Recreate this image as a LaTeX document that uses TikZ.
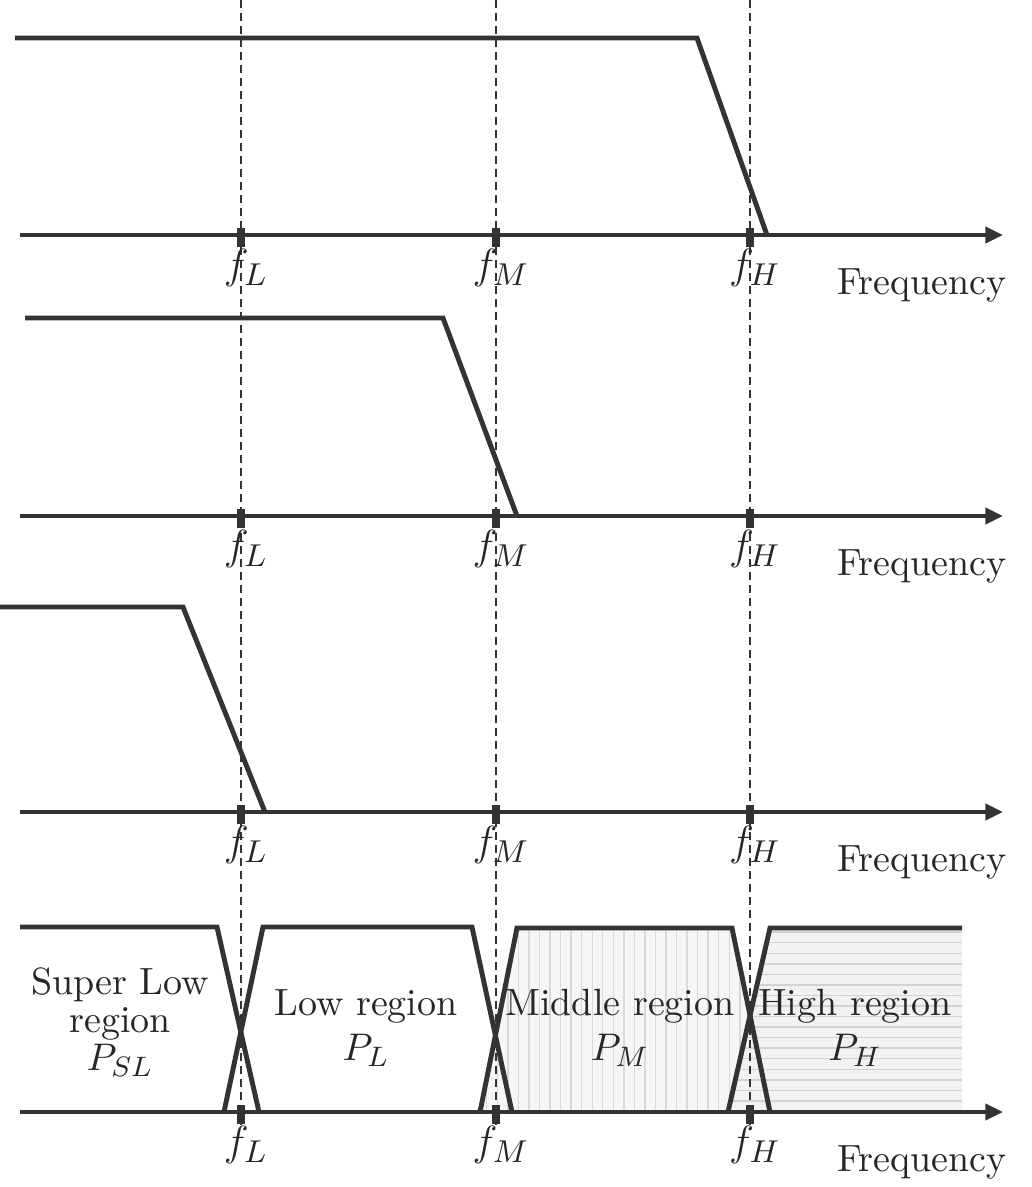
\documentclass[tikz,border=0pt]{standalone}
\usepackage{tikz}
\usetikzlibrary{arrows.meta,patterns}
\newcommand{\lblsize}{\fontsize{10.8}{10.8}\selectfont}
\newcommand{\fqsize}{\fontsize{13}{13}\selectfont}

\begin{document}
\begin{tikzpicture}[
  x=0.1mm,y=-0.1mm,
  >={Triangle[length=5pt,width=4.5pt]},
  axis/.style={->,line width=1.4pt,draw=black!80},
  resp/.style={line width=1.4pt,draw=black!80,line join=miter},
  guide/.style={line width=0.45pt,draw=black!80,dash pattern=on 2.3pt off 1.4pt},
  tck/.style={line width=2.2pt,draw=black!80},
  flab/.style={font=\lblsize,inner sep=0pt,text=black!85},
  fqlab/.style={font=\fqsize,inner sep=0pt,text=black!85},
  rlab/.style={font=\lblsize,align=center,inner sep=0pt,text=black!85}
]
  \useasboundingbox (0,0) rectangle (1032,1187);

  % shaded regions of the last panel
  \fill[gray!7] (480,1112) -- (517,928) -- (732,928) -- (770,1112) -- cycle;
  \fill[pattern=vertical lines,pattern color=gray!30]
    (480,1112) -- (517,928) -- (732,928) -- (770,1112) -- cycle;
  \fill[gray!10] (728,1112) -- (770,928) -- (962,928) -- (962,1112) -- cycle;
  \fill[pattern=horizontal lines,pattern color=gray!35]
    (728,1112) -- (770,928) -- (962,928) -- (962,1112) -- cycle;

  % guide lines
  \foreach \x/\n in {241/L,496/M,750/H} {
    \coordinate (g\n top) at (\x,0);
    \coordinate (g\n bot) at (\x,1125);
    \draw[guide] (g\n top) -- (g\n bot);
  }

  % axes, ticks and labels
  \foreach \y [count=\i] in {235,516,812,1112} {
    \coordinate (s\i) at (20,\y);
    \coordinate (e\i) at (1003,\y);
    \draw[axis] (s\i) -- (e\i);
    \node[flab] (freq\i) at (922,\y+50) {Frequency};
    \foreach \x/\n in {241/L,496/M,750/H} {
      \draw[tck] (\x,\y-7) -- (\x,\y+12);
      \node[fqlab] (f\n\i) at (\x+5,\y+33) {$f_\n$};
    }
  }

  % filter responses
  \draw[resp] (15,38) -- (697,38) -- (767,235);
  \draw[resp] (25,318) -- (443,318) -- (517,516);
  \draw[resp] (0,607) -- (183,607) -- (265,812);

  % band split
  \draw[resp] (20,927) -- (217,927) -- (259,1112);
  \draw[resp] (224,1112) -- (263,927) -- (472,927) -- (512,1112);
  \draw[resp] (480,1112) -- (517,928) -- (732,928) -- (770,1112);
  \draw[resp] (728,1112) -- (770,928) -- (962,928);

  \node[rlab] (psl) at (120,1022) {Super Low\\region\\$P_{SL}$};
  \node[rlab] (pl) at (366,1028) {Low region\\[2pt]$P_L$};
  \node[rlab] (pm) at (620,1028) {Middle region\\[2pt]$P_M$};
  \node[rlab] (ph) at (855,1028) {High region\\[2pt]$P_H$};
\end{tikzpicture}
\end{document}
